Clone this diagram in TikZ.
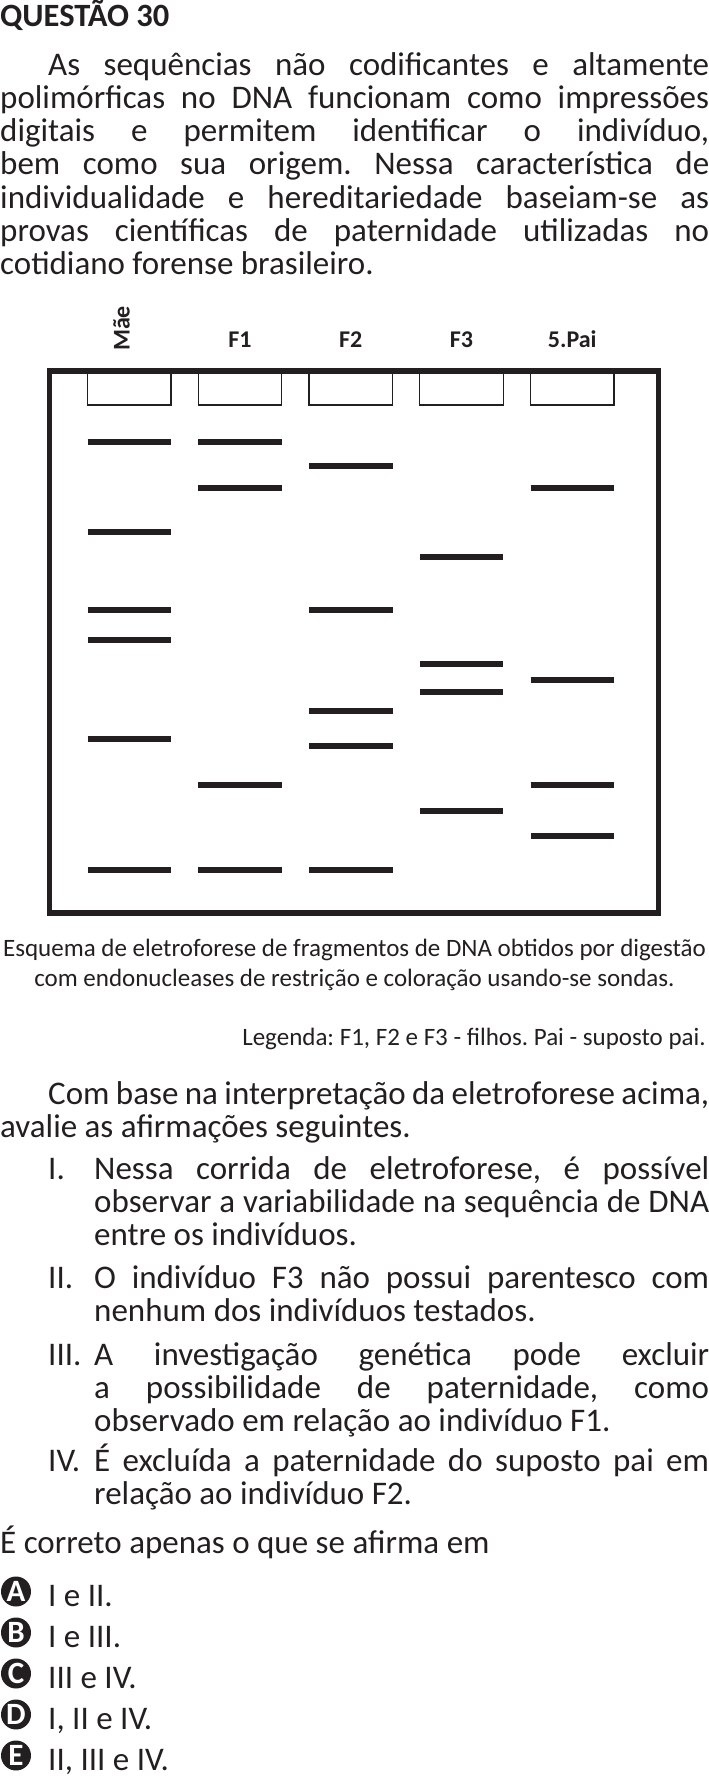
\documentclass[tikz,border=0pt]{standalone}
\usepackage{fontspec}
\setmainfont{Carlito}
\definecolor{ink}{HTML}{231F20}
\tolerance=9999
\hbadness=10000
\hyphenpenalty=10000
\frenchspacing
\begin{document}
\begin{tikzpicture}[x=1pt, y=-1pt, ink,
  txt/.style={rectangle, draw=none, inner sep=0pt, anchor=base west, font=\fontsize{33}{33.3}\selectfont},
  para/.style={txt, text width=#1, align=justify},
  note/.style={rectangle, draw=none, inner sep=0pt, font=\fontsize{25}{30}\selectfont},
  lane/.style={rectangle, draw=none, inner sep=0pt, anchor=base, font=\bfseries\fontsize{24}{24}\selectfont},
  band/.style={line width=6pt},
  well/.style={line width=1.3pt},
  opt/.style={rectangle, draw=none, text=white, inner sep=0pt, font=\bfseries\fontsize{31}{31}\selectfont}]
\useasboundingbox (0,0) rectangle (709,1777);
%%%%%%%%%%%%%%%%%%%%%%%%%%%%%%% Statement
\node[txt, font=\bfseries\fontsize{32.5}{33.3}\selectfont](title) at (0,27){QUESTÃO 30};
\node[para=709pt](intro) at (0,75){\hspace*{48pt}As sequências não codificantes e altamente\linebreak polimórficas no DNA funcionam como impressões\linebreak digitais e permitem identificar o indivíduo,\linebreak bem como sua origem. Nessa característica de\linebreak individualidade e hereditariedade baseiam-se as\linebreak provas científicas de paternidade utilizadas no\linebreak cotidiano forense brasileiro.};

%%%%%%%%%%%%%%%%%%%%%%%%%%%%%%% Gel
\node[lane, rotate=90](labMae) at (129.5,328.5){Mãe};
\node[lane](labF1) at (240,347){F1};
\node[lane](labF2) at (350.75,347){F2};
\node[lane](labF3) at (461.5,347){F3};
\node[lane](labPai) at (572.25,347){5.Pai};
\draw[line width=5.5pt](49.6,371) rectangle (658.6,913.2);
\draw[well](87.5,371) rectangle (171,405);
\draw[well](198.25,371) rectangle (281.75,405);
\draw[well](309,371) rectangle (392.5,405);
\draw[well](419.75,371) rectangle (503.25,405);
\draw[well](530.5,371) rectangle (614,405);
% Mae
\draw[band](87.5,442.4) -- (171,442.4);
\draw[band](87.5,532.3) -- (171,532.3);
\draw[band](87.5,609.7) -- (171,609.7);
\draw[band](87.5,639.5) -- (171,639.5);
\draw[band](87.5,739.4) -- (171,739.4);
\draw[band](87.5,869.9) -- (171,869.9);
% F1
\draw[band](198.25,442.4) -- (281.75,442.4);
\draw[band](198.25,488.3) -- (281.75,488.3);
\draw[band](198.25,785.3) -- (281.75,785.3);
\draw[band](198.25,869.9) -- (281.75,869.9);
% F2
\draw[band](309,466.1) -- (392.5,466.1);
\draw[band](309,609.7) -- (392.5,609.7);
\draw[band](309,710.8) -- (392.5,710.8);
\draw[band](309,746.2) -- (392.5,746.2);
\draw[band](309,869.9) -- (392.5,869.9);
% F3
\draw[band](419.75,556.7) -- (503.25,556.7);
\draw[band](419.75,663.8) -- (503.25,663.8);
\draw[band](419.75,692.1) -- (503.25,692.1);
\draw[band](419.75,810.7) -- (503.25,810.7);
% Pai
\draw[band](530.5,488.3) -- (614,488.3);
\draw[band](530.5,680) -- (614,680);
\draw[band](530.5,785.3) -- (614,785.3);
\draw[band](530.5,836.2) -- (614,836.2);
\node[note, anchor=base](caption1) at (354.5,956){Esquema de eletroforese de fragmentos de DNA obtidos por digestão};
\node[note, anchor=base](caption2) at (354.5,986){com endonucleases de restrição e coloração usando-se sondas.};
\node[note, anchor=base east](legend) at (706,1045){Legenda: F1, F2 e F3 - filhos. Pai - suposto pai.};

%%%%%%%%%%%%%%%%%%%%%%%%%%%%%%% Items
\node[para=709pt](question) at (0,1104){\hspace*{48pt}Com base na interpretação da eletroforese acima,\linebreak avalie as afirmações seguintes.};
\node[txt](numI) at (48,1179){I.};
\node[para=615pt](itemI) at (94,1179){Nessa corrida de eletroforese, é possível\linebreak observar a variabilidade na sequência de DNA\linebreak entre os indivíduos.};
\node[txt](numII) at (48,1288){II.};
\node[para=615pt](itemII) at (94,1288){O indivíduo F3 não possui parentesco com\linebreak nenhum dos indivíduos testados.};
\node[txt](numIII) at (48,1365){III.};
\node[para=615pt](itemIII) at (94,1365){A investigação genética pode excluir\linebreak a possibilidade de paternidade, como\linebreak observado em relação ao indivíduo F1.};
\node[txt](numIV) at (48,1471){IV.};
\node[para=615pt](itemIV) at (94,1471){É excluída a paternidade do suposto pai em\linebreak relação ao indivíduo F2.};
\node[txt](prompt) at (0,1553){É correto apenas o que se afirma em};

%%%%%%%%%%%%%%%%%%%%%%%%%%%%%%% Options
\fill (16,1591.5) circle (15pt);
\fill (16,1632.5) circle (15pt);
\fill (16,1673.5) circle (15pt);
\fill (16,1714.5) circle (15pt);
\fill (16,1755.5) circle (15pt);
\node[opt](optA) at (16,1591.5){A};
\node[txt](ansA) at (48,1606){I e II.};
\node[opt](optB) at (16,1632.5){B};
\node[txt](ansB) at (48,1647){I e III.};
\node[opt](optC) at (16,1673.5){C};
\node[txt](ansC) at (48,1688){III e IV.};
\node[opt](optD) at (16,1714.5){D};
\node[txt](ansD) at (48,1729){I, II e IV.};
\node[opt](optE) at (16,1755.5){E};
\node[txt](ansE) at (48,1770){II, III e IV.};
\end{tikzpicture}
\end{document}
